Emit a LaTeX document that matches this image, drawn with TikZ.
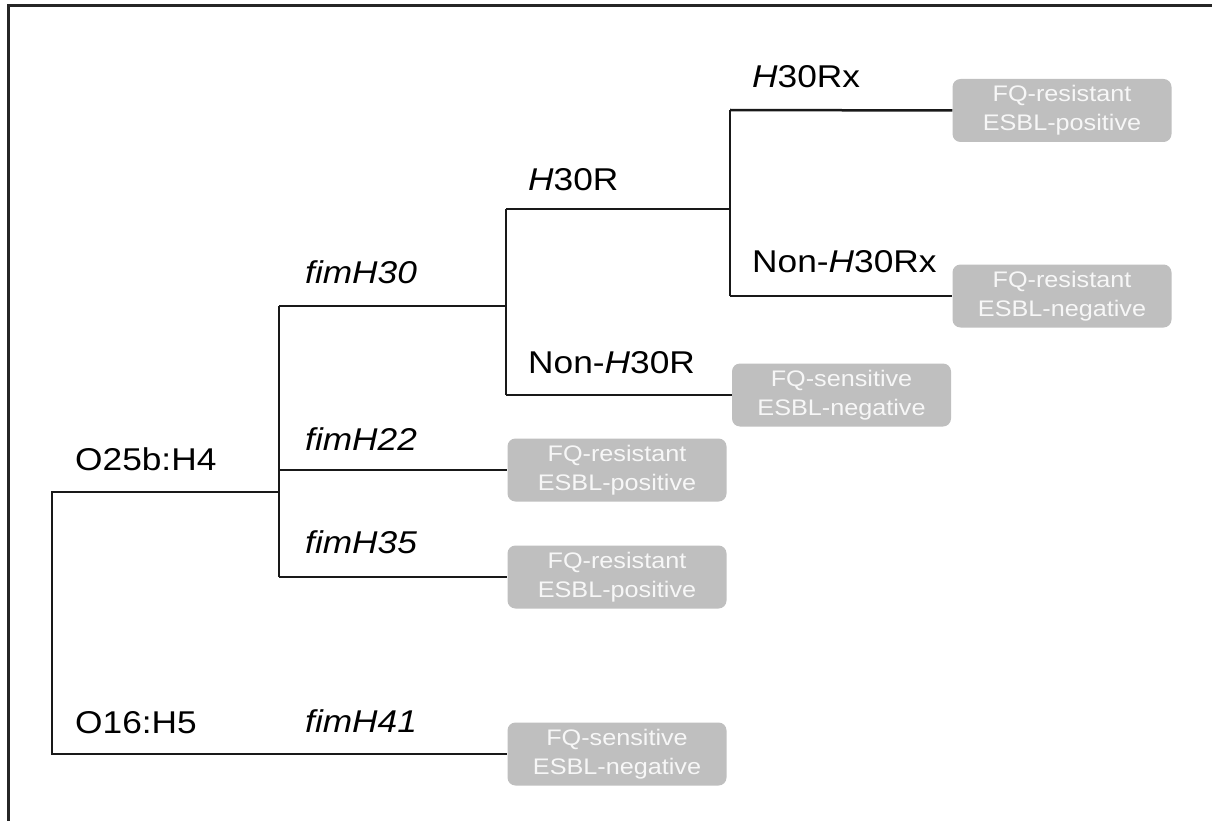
\documentclass[tikz,border=0pt]{standalone}
\usepackage{fontspec}
\setmainfont[FakeStretch=1.12]{Liberation Sans}
\begin{document}
\begin{tikzpicture}[x=1pt,y=-1pt,
  tree/.style={line width=2.5pt,black!90},
  lab/.style={anchor=base west,inner sep=0pt,font=\fontsize{31.5}{36}\selectfont},
  leaf/.style={rounded corners=8pt,fill=black!25,draw=none,minimum width=219pt,minimum height=63pt,inner sep=0pt,align=center,text=black!3,font=\fontsize{22.5}{29}\selectfont}]
\useasboundingbox (0,0) rectangle (1212,821);
\draw[line width=3pt,black!85] (8,821) -- (8,6) -- (1212,6);
% leaves
\node[leaf] (l1) at (1062,110.5) {FQ-resistant\\ESBL-positive};
\node[leaf] (l2) at (1062,296) {FQ-resistant\\ESBL-negative};
\node[leaf] (l3) at (841.5,395) {FQ-sensitive\\ESBL-negative};
\node[leaf] (l4) at (617,470) {FQ-resistant\\ESBL-positive};
\node[leaf] (l5) at (617,577) {FQ-resistant\\ESBL-positive};
\node[leaf] (l6) at (617,754) {FQ-sensitive\\ESBL-negative};
% junctions
\coordinate (r1) at (52,492);
\coordinate (r2) at (52,754);
\coordinate (a0) at (279,492);
\coordinate (a1) at (279,306);
\coordinate (a2) at (279,470);
\coordinate (a3) at (279,577);
\coordinate (b1) at (506,306);
\coordinate (b0) at (506,209);
\coordinate (b2) at (506,395);
\coordinate (c0) at (730,209);
\coordinate (c1) at (730,110);
\coordinate (c2) at (730,296);
% tree
\draw[tree] (a0) -- (r1) -- (r2) -- (l6.west);
\draw[tree] (a1) -- (a3);
\draw[tree] (a1) -- (b1);
\draw[tree] (a2) -- (l4.west);
\draw[tree] (a3) -- (l5.west);
\draw[tree] (b0) -- (b2);
\draw[tree] (b0) -- (c0);
\draw[tree] (b2) -- (l3.west);
\draw[tree] (c1) -- (c2);
\draw[tree] (c1) -- (l1.west);
\draw[tree] (c2) -- (l2.west);
% labels
\node[lab] (t1) at (75,470) {O25b:H4};
\node[lab] (t2) at (75,733) {O16:H5};
\node[lab] (t3) at (305,283) {\textit{fimH30}};
\node[lab] (t4) at (305,450) {\textit{fimH22}};
\node[lab] (t5) at (305,553) {\textit{fimH35}};
\node[lab] (t6) at (305,732) {\textit{fimH41}};
\node[lab] (t7) at (528,190) {\textit{H}30R};
\node[lab] (t8) at (528,373) {Non-\textit{H}30R};
\node[lab] (t9) at (752,88) {\textit{H}30Rx};
\node[lab] (t10) at (752,272) {Non-\textit{H}30Rx};
\end{tikzpicture}
\end{document}
